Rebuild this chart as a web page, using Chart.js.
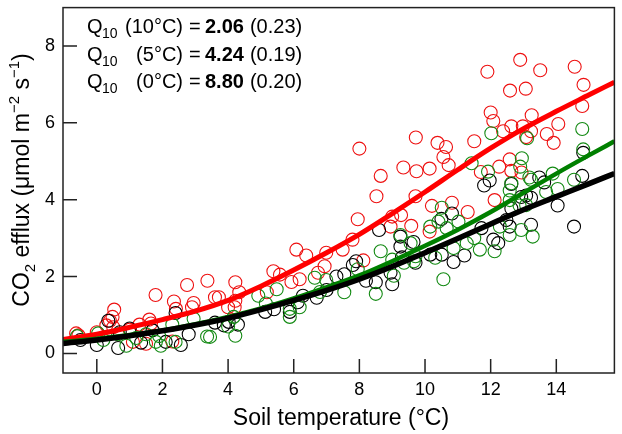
<!DOCTYPE html>
<html><head><meta charset="utf-8">
<script src="https://cdn.jsdelivr.net/npm/chart.js@4.4.0/dist/chart.umd.min.js"></script>
<style>html,body{margin:0;padding:0;background:#fff;}#wrap{width:622px;height:434px;}</style>
</head><body><div id="wrap"><canvas id="c" width="622" height="434"></canvas></div>
<script>
// ---- data ----
const xTicks = [0, 2, 4, 6, 8, 10, 12, 14];
const yTicks = [0, 2, 4, 6, 8];

const fitT     = [-1.03, 0, 1, 2, 3, 4, 5, 6, 7, 8, 9, 10, 11, 12, 13, 14, 15, 15.77];
const redFit   = [0.36, 0.5, 0.68, 0.88, 1.1, 1.38, 1.75, 2.17, 2.62, 3.1, 3.64, 4.2, 4.78, 5.34, 5.85, 6.3, 6.73, 7.06];
const greenFit = [0.3, 0.38, 0.48, 0.6, 0.76, 0.95, 1.17, 1.43, 1.72, 2.03, 2.4, 2.8, 3.22, 3.68, 4.18, 4.68, 5.16, 5.52];
const blackFit = [0.26, 0.35, 0.46, 0.59, 0.74, 0.92, 1.14, 1.38, 1.64, 1.93, 2.26, 2.62, 2.99, 3.37, 3.74, 4.08, 4.42, 4.68];

const redT = [-0.63,-0.56,0.0,0.29,0.4,0.48,0.53,0.5,1.0,1.1,1.3,1.5,1.6,1.65,1.79,2.3,2.35,2.41,2.75,2.9,2.95,3.37,3.6,3.72,4.0,4.2,4.22,4.34,4.22,5.18,5.38,5.58,5.93,6.08,6.18,6.38,6.74,6.94,6.99,7.49,7.79,7.95,8.0,8.12,8.52,8.65,8.95,9.0,9.27,9.34,9.58,9.71,9.72,9.74,10.14,10.14,10.21,10.38,10.56,10.64,10.72,10.82,11.3,11.5,11.7,11.9,12.0,12.08,12.12,12.26,12.38,12.58,12.59,12.63,12.63,12.9,12.94,12.98,13.07,13.08,13.23,13.25,13.51,13.71,13.92,14.06,14.56,14.79,14.83];
const redF = [0.52,0.47,0.55,0.73,0.85,0.95,1.14,0.68,0.62,0.3,0.75,0.25,0.88,0.78,1.52,0.31,1.35,1.16,1.78,1.2,1.31,1.89,1.46,1.46,1.2,1.2,1.85,1.59,1.37,1.59,2.14,2.05,1.86,2.7,1.93,2.55,2.1,2.27,2.62,2.7,2.96,3.49,5.33,2.42,4.09,4.62,3.3,3.56,3.6,4.84,3.32,4.09,5.62,4.74,4.81,3.17,3.84,5.48,5.11,5.37,4.9,3.92,3.68,5.52,4.72,7.33,6.27,6.05,3.99,4.86,5.78,5.05,6.84,5.91,4.75,7.64,4.71,5.91,6.89,5.63,5.78,6.2,7.37,5.71,5.48,5.97,7.46,6.44,6.99];

const greenT = [-0.6,0.04,0.2,0.65,0.9,1.2,1.5,1.8,1.9,1.95,2.3,2.4,2.95,3.36,3.45,4.0,4.17,4.22,4.92,5.15,5.48,5.88,5.88,6.18,6.64,6.8,6.99,7.54,7.95,8.5,8.65,9.0,9.05,9.25,9.36,9.56,9.66,9.71,10.16,10.31,10.41,10.51,10.56,10.66,10.87,11.02,11.27,11.42,11.5,11.67,11.92,12.02,12.12,12.28,12.58,12.58,12.58,12.63,12.88,12.9,12.93,12.95,13.08,13.11,13.18,13.23,13.28,13.69,13.89,14.04,14.54,14.79,14.82];
const greenF = [0.45,0.52,0.35,0.5,0.2,0.4,0.5,0.3,0.45,0.2,0.75,0.3,0.9,0.44,0.43,0.7,0.95,0.46,1.5,1.3,1.67,0.95,1.16,1.2,1.97,1.6,1.91,1.59,2.19,1.55,2.66,2.44,2.02,3.08,2.36,2.87,2.4,2.53,3.3,2.49,3.43,3.79,1.93,3.26,2.74,3.43,2.87,4.95,3.0,2.7,4.73,5.73,2.66,3.3,4.24,3.99,3.08,4.43,3.85,4.86,3.21,5.08,3.86,5.6,4.58,4.52,3.04,4.2,4.68,4.28,4.52,5.84,5.31];

const blackT = [-0.5,0.0,0.35,0.65,0.7,1.0,1.35,1.7,2.1,2.4,2.56,2.8,3.6,3.87,4.02,4.3,5.13,5.4,5.88,6.12,6.28,6.7,7.0,7.3,7.54,7.8,7.9,8.2,8.5,8.6,8.95,9.0,9.25,9.25,9.3,9.65,9.71,10.16,10.5,10.51,10.82,10.87,11.2,11.72,11.8,11.97,12.08,12.23,12.48,12.58,12.63,12.63,12.93,13.08,13.23,13.23,13.48,13.63,14.04,14.54,14.79,14.82];
const blackF = [0.35,0.22,0.85,0.14,0.55,0.65,0.28,0.6,0.3,1.05,0.22,0.5,0.8,0.73,0.82,0.75,1.08,1.15,1.08,1.33,1.5,1.45,1.65,2.0,2.06,2.3,2.4,1.89,1.85,3.21,2.1,1.8,2.78,3.04,2.5,2.9,2.36,2.57,3.5,2.57,3.64,2.38,2.55,3.26,4.37,4.5,2.96,2.87,3.47,3.3,4.41,3.77,4.07,4.11,4.05,3.35,4.58,4.45,3.85,3.3,4.62,5.22];

// ---- build ----
const pts = (xs, ys) => xs.map((x, i) => ({x: x, y: ys[i]}));
const FONT = "'Liberation Sans', Arial, sans-serif";
const C_RED = '#ee1111', C_GREEN = '#008000', C_BLACK = '#000000';

function lineDs(data, color, w) {
  return {type: 'line', data: pts(fitT, data), borderColor: color, borderWidth: w, pointRadius: 0,
          fill: false, showLine: true, cubicInterpolationMode: 'monotone'};
}
function ptDs(xs, ys, color) {
  return {type: 'scatter', data: pts(xs, ys), borderColor: color, backgroundColor: 'rgba(0,0,0,0)',
          borderWidth: 1.1, pointRadius: 6.5, pointStyle: 'circle', showLine: false};
}

const frame = {
  id: 'frame',
  afterDatasetsDraw(chart) {
    const ctx = chart.ctx, a = chart.chartArea, xs = chart.scales.x, ys = chart.scales.y;
    ctx.save();
    ctx.strokeStyle = '#222'; ctx.lineWidth = 1.5;
    ctx.strokeRect(a.left, a.top, a.right - a.left, a.bottom - a.top);
    ctx.beginPath();
    xTicks.forEach(v => { const p = xs.getPixelForValue(v); ctx.moveTo(p, a.bottom); ctx.lineTo(p, a.bottom - 14); });
    yTicks.forEach(v => { const p = ys.getPixelForValue(v); ctx.moveTo(a.left, p); ctx.lineTo(a.left + 14, p); });
    ctx.stroke();

    ctx.fillStyle = '#000';
    // x title
    ctx.font = '23px ' + FONT; ctx.textAlign = 'center'; ctx.textBaseline = 'alphabetic';
    ctx.fillText('Soil temperature (°C)', 341, 425);

    // y title (rotated)
    const parts = [
      ['CO', 23, 0], ['2', 15, 6], [' efflux (μmol m', 23, 0], ['−2', 15, -10], [' s', 23, 0], ['−1', 15, -10], [')', 23, 0]
    ];
    let total = 0;
    parts.forEach(p => { ctx.font = p[1] + 'px ' + FONT; total += ctx.measureText(p[0]).width; });
    ctx.save();
    ctx.translate(29, 180);
    ctx.rotate(-Math.PI / 2);
    ctx.textAlign = 'left';
    let x = -total / 2;
    parts.forEach(p => { ctx.font = p[1] + 'px ' + FONT; ctx.fillText(p[0], x, p[2]); x += ctx.measureText(p[0]).width; });
    ctx.restore();

    // Q10 annotation
    const rows = [['(10°C)', '2.06', '(0.23)', 33], ['(5°C)', '4.24', '(0.19)', 60.5], ['(0°C)', '8.80', '(0.20)', 88]];
    rows.forEach(r => {
      const by = r[3];
      ctx.textAlign = 'left';
      ctx.font = '20px ' + FONT; ctx.fillText('Q', 87, by);
      ctx.font = '14px ' + FONT; ctx.fillText('10', 102, by + 5);
      ctx.font = '20px ' + FONT; ctx.textAlign = 'right'; ctx.fillText(r[0], 183, by);
      ctx.textAlign = 'left';
      ctx.fillText('=', 189, by);
      ctx.font = 'bold 20px ' + FONT; ctx.fillText(r[1], 205, by);
      const w = ctx.measureText(r[1]).width;
      ctx.font = '20px ' + FONT; ctx.fillText(r[2], 205 + w + 6, by);
    });
    ctx.restore();
  }
};

new Chart(document.getElementById('c'), {
  type: 'scatter',
  data: {datasets: [
    lineDs(blackFit, C_BLACK, 5.5),
    lineDs(greenFit, C_GREEN, 4.5),
    lineDs(redFit, '#ff0000', 5),
    ptDs(greenT, greenF, '#138a13'),
    ptDs(blackT, blackF, C_BLACK),
    ptDs(redT, redF, C_RED)
  ]},
  options: {
    responsive: false, animation: false, devicePixelRatio: 1,
    layout: {padding: {left: 0, right: 3, top: 1, bottom: 0}},
    plugins: {legend: {display: false}, tooltip: {enabled: false}},
    scales: {
      x: {type: 'linear', min: -1.03, max: 15.77,
          afterBuildTicks: s => { s.ticks = xTicks.map(v => ({value: v})); },
          afterFit: s => { s.height = 61; s.paddingLeft = 0; s.paddingRight = 0; },
          grid: {display: false, drawTicks: false}, border: {display: false},
          ticks: {padding: 6, color: '#000', maxRotation: 0, font: {family: FONT, size: 18}}},
      y: {type: 'linear', min: -0.51, max: 9.0,
          afterBuildTicks: s => { s.ticks = yTicks.map(v => ({value: v})); },
          afterFit: s => { s.width = 63; s.paddingTop = 0; s.paddingBottom = 0; },
          grid: {display: false, drawTicks: false}, border: {display: false},
          ticks: {padding: 8, color: '#000', font: {family: FONT, size: 18}}}
    }
  },
  plugins: [frame]
});
</script></body></html>
